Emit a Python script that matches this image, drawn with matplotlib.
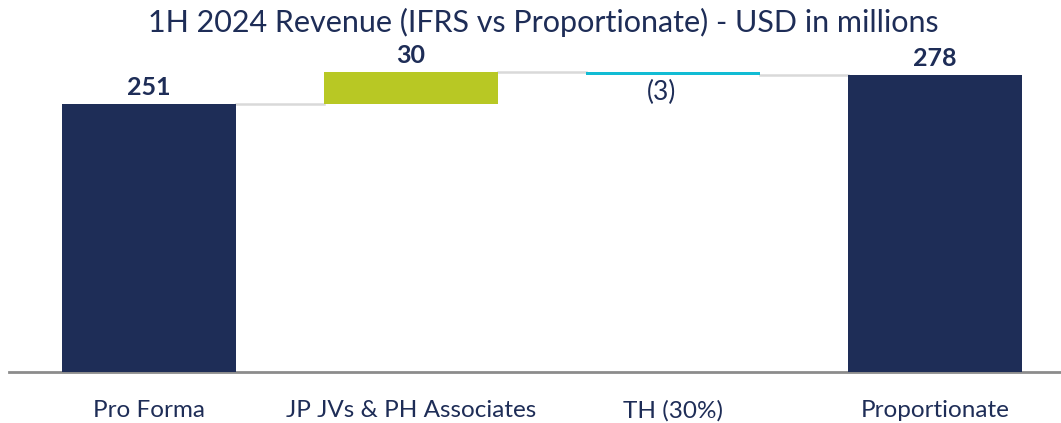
import numpy as np
import matplotlib.pyplot as plt

categories = ['Pro Forma', 'JP JVs & PH Associates', 'TH (30%)', 'Proportionate']
values = [251, 30, -3, 278]
kinds = ['total', 'delta', 'delta', 'total']
labels = ['251', '30', '(3)', '278']

navy = '#1e2d57'
colors = [navy, '#b8c824', '#12bcd4', navy]

plt.rcParams['font.family'] = ['Lato', 'DejaVu Sans']

fig = plt.figure(figsize=(10.61, 4.23), dpi=100)
ax = fig.add_axes([9/1061, 51/423, 1 - 9/1061, (372 - 51.7)/423])

x = np.arange(len(categories))
width = 0.664

# waterfall bottoms / tops
bottoms = []
tops = []
running = 0
for v, k in zip(values, kinds):
    if k == 'total':
        bottoms.append(0)
        tops.append(v)
        running = v
    else:
        start = running
        running = running + v
        bottoms.append(min(start, running))
        tops.append(max(start, running))
bottoms = np.array(bottoms)
tops = np.array(tops)

ax.bar(x, tops - bottoms, bottom=bottoms, width=width, color=colors, zorder=3)

# connector lines
levels = np.cumsum([values[0]] + values[1:3])
for i in range(len(categories) - 1):
    lvl = levels[i]
    ax.plot([x[i] + width/2, x[i+1] - width/2], [lvl, lvl], color='#d9d9d9', lw=1.8, zorder=2)

# value labels
for i, (v, lab) in enumerate(zip(values, labels)):
    if v >= 0:
        ax.text(x[i], tops[i] + 5, lab, ha='center', va='bottom', fontsize=18,
                fontweight='bold', color=navy)
    else:
        ax.text(x[i] - 0.045, bottoms[i] - 4, lab, ha='center', va='top', fontsize=19,
                color=navy)

ax.set_xlim(-0.534, 3.481)
ax.set_ylim(0, 300)
ax.set_xticks(x)
ax.set_xticklabels(categories, fontsize=17.5, color=navy)
ax.tick_params(axis='x', length=0, pad=20)
ax.set_yticks([])
for s in ['top', 'right', 'left']:
    ax.spines[s].set_visible(False)
ax.spines['bottom'].set_color('#8c8c8c')
ax.spines['bottom'].set_linewidth(2)

fig.text(0.512, 0.948, '1H 2024 Revenue (IFRS vs Proportionate) - USD in millions',
         ha='center', va='center', fontsize=22, color=navy)

fig.savefig('out.png', dpi=100)
